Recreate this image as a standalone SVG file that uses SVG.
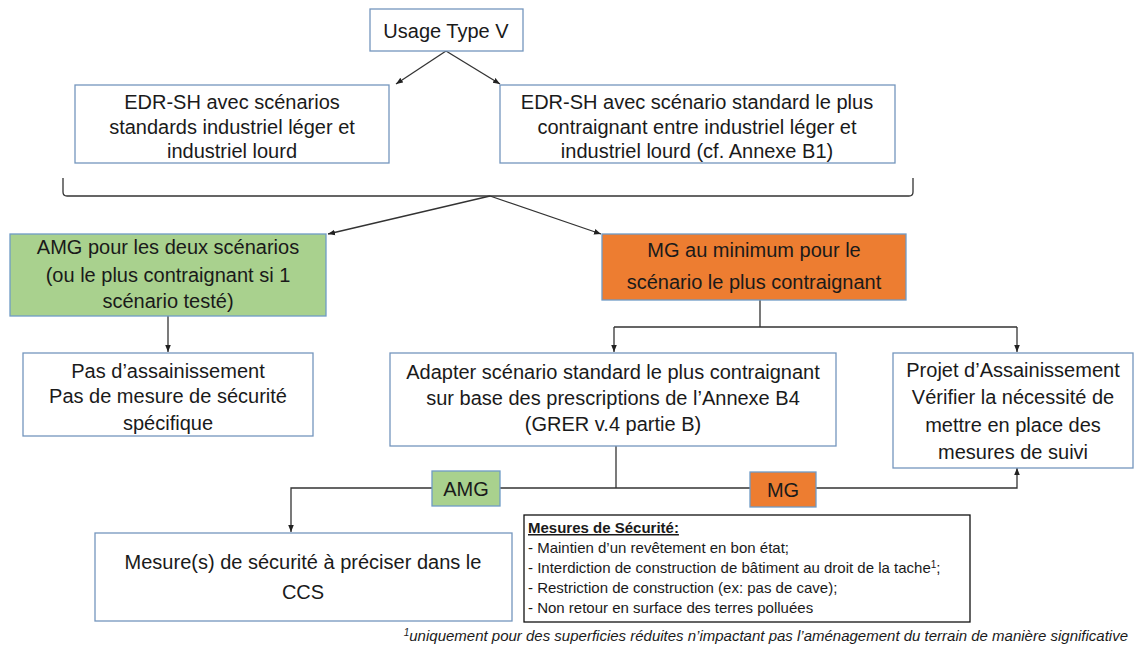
<svg xmlns="http://www.w3.org/2000/svg" width="1135" height="646" viewBox="0 0 1135 646">
<defs>
<marker id="ah" viewBox="0 0 10 10" refX="10" refY="5" markerWidth="7" markerHeight="7" orient="auto-start-reverse" markerUnits="userSpaceOnUse">
<path d="M0,1 L10,5 L0,9 z" fill="#222"/>
</marker>
<style>
.box{fill:#fff;stroke:#7496bd;stroke-width:1.3}
.green{fill:#a9d18e;stroke:#6f9bc6;stroke-width:1.3}
.orange{fill:#ed7d31;stroke:#6f9bc6;stroke-width:1.3}
.t{font-family:"Liberation Sans",Arial,sans-serif;font-size:20px;fill:#1a1a1a;text-anchor:middle}
.s{font-family:"Liberation Sans",Arial,sans-serif;font-size:15px;fill:#1a1a1a}
.c{fill:none;stroke:#333;stroke-width:1.3}
.a{marker-end:url(#ah)}
</style>
</defs>
<rect width="1135" height="646" fill="#fff"/>
<g id="connectors">
<path class="c a" d="M446,51 L396,84"/>
<path class="c a" d="M446,51 L500,84"/>
<path class="c" d="M63,178 L63,192 Q63,196 67,196 L909,196 Q913,196 913,192 L913,178"/>
<path class="c a" d="M490,196 L328,234"/>
<path class="c a" d="M490,196 L601,234"/>
<path class="c a" d="M168,316 L168,352"/>
<path class="c" d="M760,300 L760,327 M614,327 L1017,327"/>
<path class="c a" d="M614,327 L614,352"/>
<path class="c a" d="M1017,327 L1017,352"/>
<path class="c" d="M616,446 L616,488"/>
<path class="c a" d="M432,488 L291,488 L291,532"/>
<path class="c" d="M500,488 L750,488"/>
<path class="c a" d="M816,488 L1017,488 L1017,468"/>
</g>
<g id="usage">
<rect class="box" x="370" y="9" width="153" height="42"/>
<text class="t" x="446" y="38">Usage Type V</text>
</g>
<g id="edr-left">
<rect class="box" x="75" y="85" width="314" height="78"/>
<text class="t" x="232" y="109">EDR-SH avec scénarios</text>
<text class="t" x="232" y="134">standards industriel léger et</text>
<text class="t" x="232" y="158">industriel lourd</text>
</g>
<g id="edr-right">
<rect class="box" x="500" y="85" width="395" height="78"/>
<text class="t" x="697" y="109">EDR-SH avec scénario standard le plus</text>
<text class="t" x="697" y="134">contraignant entre industriel léger et</text>
<text class="t" x="697" y="158">industriel lourd (cf. Annexe B1)</text>
</g>
<g id="amg-box">
<rect class="green" x="10" y="234" width="316" height="82"/>
<text class="t" x="168" y="254">AMG pour les deux scénarios</text>
<text class="t" x="168" y="282">(ou le plus contraignant si 1</text>
<text class="t" x="168" y="308">scénario testé)</text>
</g>
<g id="pas">
<rect class="box" x="23" y="353" width="290" height="83"/>
<text class="t" x="168" y="378">Pas d’assainissement</text>
<text class="t" x="168" y="403">Pas de mesure de sécurité</text>
<text class="t" x="168" y="430">spécifique</text>
</g>
<g id="mg-box">
<rect class="orange" x="602" y="234" width="304" height="66"/>
<text class="t" x="754" y="257">MG au minimum pour le</text>
<text class="t" x="754" y="289">scénario le plus contraignant</text>
</g>
<g id="adapter">
<rect class="box" x="390" y="353" width="446" height="93"/>
<text class="t" x="613" y="379">Adapter scénario standard le plus contraignant</text>
<text class="t" x="613" y="405">sur base des prescriptions de l’Annexe B4</text>
<text class="t" x="613" y="431">(GRER v.4 partie B)</text>
</g>
<g id="projet">
<rect class="box" x="893" y="353" width="240" height="115"/>
<text class="t" x="1013" y="377">Projet d’Assainissement</text>
<text class="t" x="1013" y="404">Vérifier la nécessité de</text>
<text class="t" x="1013" y="432">mettre en place des</text>
<text class="t" x="1013" y="459">mesures de suivi</text>
</g>
<g id="amg-label">
<rect class="green" x="432" y="471" width="68" height="35"/>
<text class="t" x="466" y="496">AMG</text>
</g>
<g id="mg-label">
<rect class="orange" x="750" y="472" width="66" height="35"/>
<text class="t" x="783" y="497">MG</text>
</g>
<g id="mesure">
<rect class="box" x="95" y="533" width="417" height="88"/>
<text class="t" x="303" y="569" font-size="20.5">Mesure(s) de sécurité à préciser dans le</text>
<text class="t" x="303" y="599" font-size="20.5">CCS</text>
</g>
<g id="securite">
<rect x="524" y="515" width="446" height="107" fill="#fff" stroke="#111" stroke-width="1.3"/>
<text class="s" x="528" y="533" font-weight="bold" text-decoration="underline">Mesures de Sécurité:</text>
<text class="s" x="528" y="553">- Maintien d’un revêtement en bon état;</text>
<text class="s" x="528" y="573">- Interdiction de construction de bâtiment au droit de la tache<tspan font-size="10" dy="-5">1</tspan><tspan dy="5">;</tspan></text>
<text class="s" x="528" y="593">- Restriction de construction (ex: pas de cave);</text>
<text class="s" x="528" y="613">- Non retour en surface des terres polluées</text>
</g>
<g id="footnote">
<text x="1128" y="641" font-family="Liberation Sans,Arial,sans-serif" font-size="15" font-style="italic" fill="#1a1a1a" text-anchor="end"><tspan font-size="10" dy="-5">1</tspan><tspan dy="5">uniquement pour des superficies réduites n’impactant pas l’aménagement du terrain de manière significative</tspan></text>
</g>
</svg>
